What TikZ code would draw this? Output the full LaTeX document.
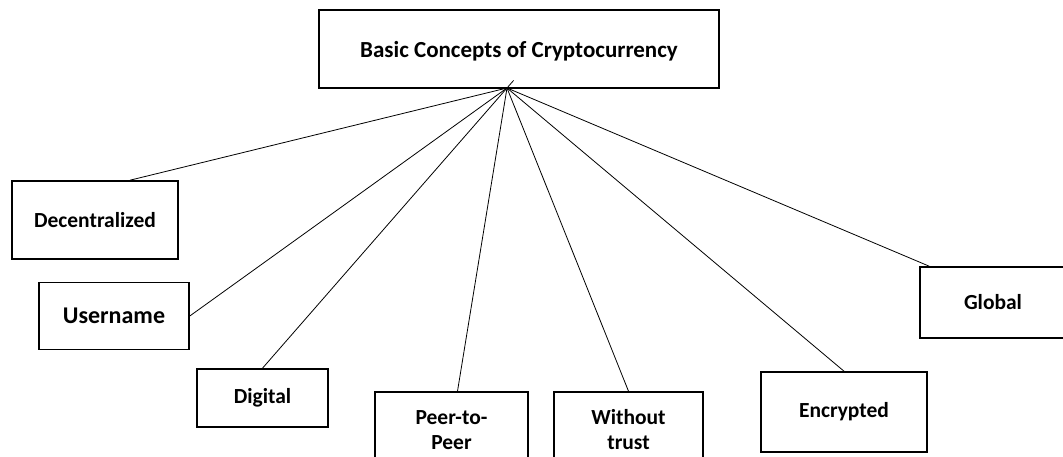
\documentclass[tikz,border=0pt]{standalone}
\usepackage{fontspec}
\setmainfont{Carlito}
\usetikzlibrary{calc}
\begin{document}
\begin{tikzpicture}[x=1pt,y=-1pt,
  conceptbox/.style={draw, line width=1.6pt, inner sep=0pt, align=center, font=\fontsize{21.5}{25}\selectfont\bfseries},
  link/.style={line width=0.8pt}]
\useasboundingbox (0,0) rectangle (1063,457);
\node[conceptbox, minimum width=400, minimum height=78, text depth=0pt, font=\fontsize{23}{26}\selectfont\bfseries] (basic) at (519,49){Basic Concepts of Cryptocurrency};
\coordinate (hub) at (507,88);
\node[conceptbox, minimum width=166, minimum height=78] (decentral) at (95,220){Decentralized};
\node[conceptbox, minimum width=150, minimum height=67, font=\fontsize{24}{28}\selectfont\bfseries] (username) at (114,316){Username};
\node[conceptbox, minimum width=131, minimum height=58] (digital) at (262.5,398){Digital};
\node[conceptbox, minimum width=153, minimum height=76] (peer) at (451.5,430){Peer-to-\\Peer};
\node[conceptbox, minimum width=149, minimum height=76] (notrust) at (628.5,430){Without\\trust};
\node[conceptbox, minimum width=166, minimum height=80] (encrypt) at (844,412){Encrypted};
\node[conceptbox, minimum width=146, minimum height=71] (global) at (993,302.5){Global};
\draw[link] (hub) -- ([xshift=35]decentral.north);
\draw[link] (hub) -- (username.east);
\draw[link] (digital.north) -- ($(digital.north)!1.027!(hub)$);
\draw[link] (hub) -- ([xshift=6]peer.north);
\draw[link] (hub) -- (notrust.north);
\draw[link] (hub) -- (encrypt.north);
\draw[link] (hub) -- ([xshift=10]global.north west);
\end{tikzpicture}
\end{document}
